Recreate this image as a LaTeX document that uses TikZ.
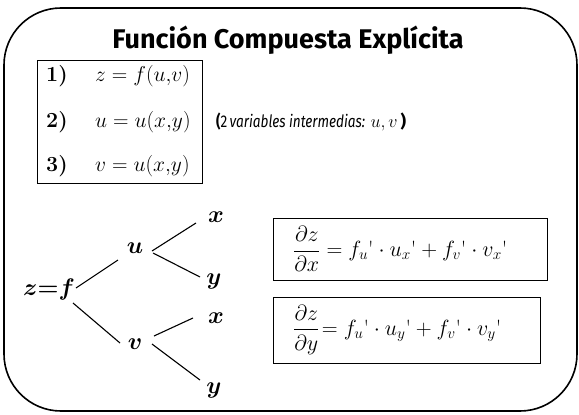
\RequirePackage{fix-cm}
\documentclass[tikz,border=0pt]{standalone}
\usepackage{amsmath}
\usepackage{graphicx}
\usepackage{fontspec}
\newfontfamily\comicf{Fira Sans}
\begin{document}
\begin{tikzpicture}[x=1pt,y=-1pt,
  lbl/.style={inner sep=0pt, anchor=center},
  eq/.style={inner sep=0pt, anchor=west, font=\fontsize{21.5}{25}\selectfont},
  tree/.style={inner sep=0pt, anchor=center, font=\fontsize{24}{28}\selectfont},
  br/.style={line width=1.1pt},
  bx/.style={draw, line width=0.9pt, inner sep=0pt}]
\useasboundingbox (0,0) rectangle (579,415);
\draw[line width=1.6pt, rounded corners=57pt] (4,8) rectangle (577,411);
\node[lbl, font=\comicf\bfseries\fontsize{27}{30}\selectfont] (title) at (288,40) {Función Compuesta Explícita};
% box 1
\node[bx, minimum width=165pt, minimum height=123pt] (defs) at (119.5,121.5) {};
\node[eq] (r1n) at (46,76) {$\boldsymbol{1)}$};
\node[eq] (r1) at (95,76) {$z=f(u{,}v)$};
\node[eq] (r2n) at (46,122) {$\boldsymbol{2)}$};
\node[eq] (r2) at (95,122) {$u=u(x{,}y)$};
\node[eq] (r3n) at (46,166) {$\boldsymbol{3)}$};
\node[eq] (r3) at (95,166) {$v=u(x{,}y)$};
\node[lbl, anchor=west, font=\fontsize{18}{22}\selectfont] (note) at (216,122) {\scalebox{0.8}[1]{\comicf\fontsize{17}{20}\selectfont{\bfseries(}2\,\itshape variables intermedias:}\ $u,v$\,{\comicf\fontsize{17}{20}\selectfont\bfseries)}};
% tree
\node[tree] (z) at (49,289) {$\boldsymbol{z{=}f}$};
\node[tree] (u) at (135,248) {$\boldsymbol{u}$};
\node[tree] (v) at (135,344) {$\boldsymbol{v}$};
\node[tree] (x1) at (216,217) {$\boldsymbol{x}$};
\node[tree] (y1) at (214,281) {$\boldsymbol{y}$};
\node[tree] (x2) at (216,318) {$\boldsymbol{x}$};
\node[tree] (y2) at (214,390) {$\boldsymbol{y}$};
\coordinate (zu1) at (76,288); \coordinate (zu2) at (118,260);
\coordinate (zv1) at (73,303); \coordinate (zv2) at (120,343);
\coordinate (ux1) at (152,251); \coordinate (ux2) at (196,223);
\coordinate (uy1) at (153,253); \coordinate (uy2) at (200,277);
\coordinate (vx1) at (154,336); \coordinate (vx2) at (193,318);
\coordinate (vy1) at (152,344); \coordinate (vy2) at (200,380);
\draw[br] (zu1) -- (zu2);
\draw[br] (zv1) -- (zv2);
\draw[br] (ux1) -- (ux2);
\draw[br] (uy1) -- (uy2);
\draw[br] (vx1) -- (vx2);
\draw[br] (vy1) -- (vy2);
% formulas
\node[bx, minimum width=274pt, minimum height=62pt] (fx) at (410,249) {};
\node[lbl, anchor=west, font=\fontsize{22}{26}\selectfont] (fxt) at (293,249) {$\displaystyle\frac{\partial z}{\partial x} = f_u\text{\textquotesingle}\cdot u_x\text{\textquotesingle} + f_v\text{\textquotesingle}\cdot v_x\text{\textquotesingle}$};
\node[bx, minimum width=267pt, minimum height=66pt] (fy) at (406.5,330) {};
\node[lbl, anchor=west, font=\fontsize{22}{26}\selectfont] (fyt) at (293,330) {$\displaystyle\frac{\partial z}{\partial y}\!= f_u\text{\textquotesingle}\cdot u_y\text{\textquotesingle} + f_v\text{\textquotesingle}\cdot v_y\text{\textquotesingle}$};
\end{tikzpicture}
\end{document}
